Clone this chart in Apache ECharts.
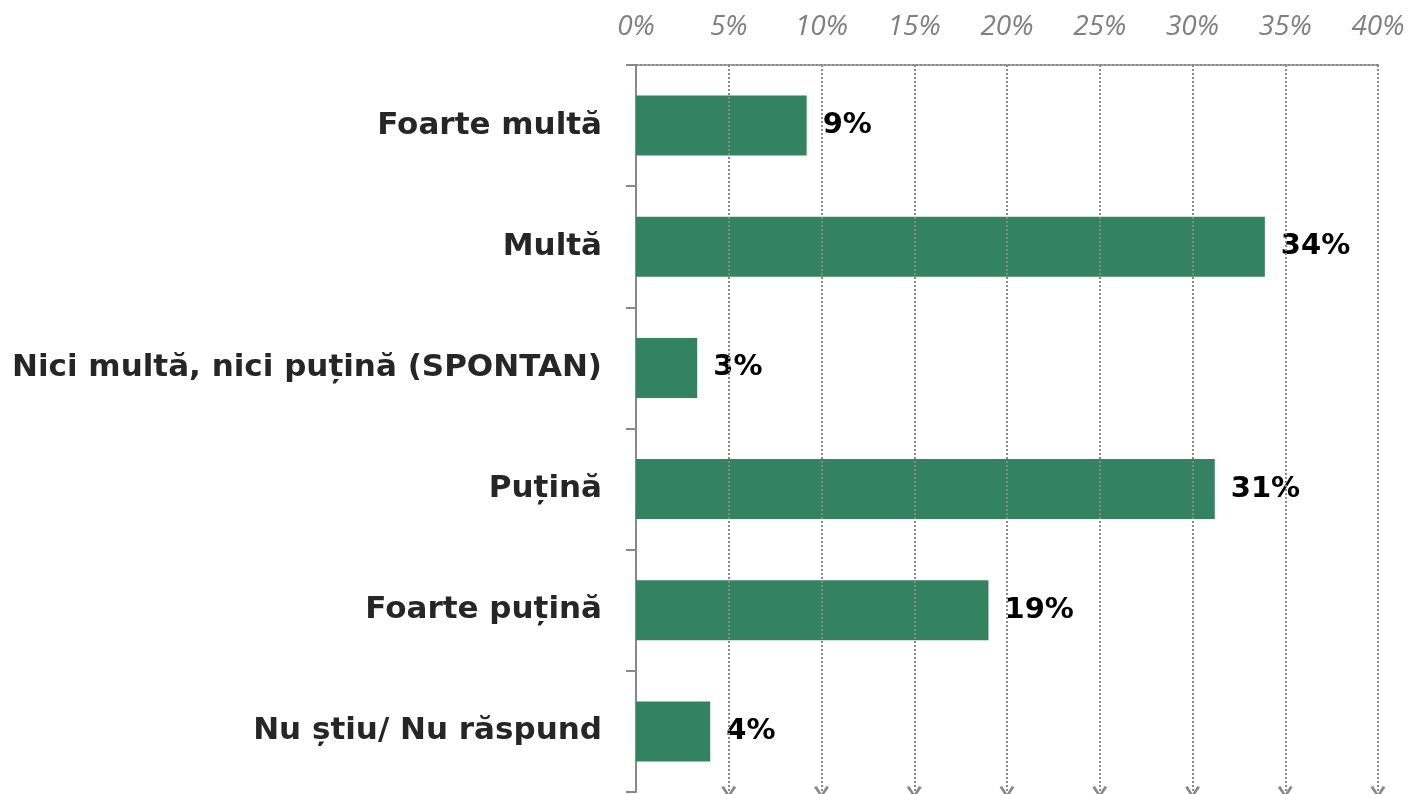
<!DOCTYPE html>
<html>
<head>
<meta charset="utf-8">
<script src="https://cdn.jsdelivr.net/npm/echarts@6/dist/echarts.min.js"></script>
<style>
html, body { margin: 0; padding: 0; background: #fff; }
#chart { width: 1409px; height: 794px; }
</style>
</head>
<body>
<div id="chart"></div>
<script>
// categories, top to bottom
var categories = ['Foarte multă', 'Multă', 'Nici multă, nici puțină (SPONTAN)', 'Puțină', 'Foarte puțină', 'Nu știu/ Nu răspund'];
// share of answers, %
var values = [9.2, 33.9, 3.3, 31.2, 19.0, 4.0];
// gridlines that end with a small arrow at the bottom
var arrowTicks = [5, 10, 15, 20, 25, 30, 35, 40];

var myChart = echarts.init(document.getElementById('chart'));

// open chevron, drawn pointing up (markLine turns it along the line)
var chevron = 'path://M0,8L5,0L10,8L8.2,9L5,3.2L1.8,9Z';

var option = {
	animation: false,
	grid: { left: 636, right: 31, top: 65, height: 727 },
	xAxis: {
		type: 'value',
		position: 'top',
		min: 0,
		max: 40,
		interval: 5,
		axisLine: { show: true, lineStyle: { color: '#888', type: 'dotted', width: 2 } },
		axisTick: { show: false },
		axisLabel: {
			color: '#808080',
			fontSize: 28,
			fontStyle: 'italic',
			fontFamily: 'Open Sans',
			margin: 24,
			formatter: '{value}%'
		},
		splitLine: { show: true, lineStyle: { color: '#888', type: 'dotted', width: 2 } }
	},
	yAxis: {
		type: 'category',
		inverse: true,
		data: categories,
		axisLine: { show: true, lineStyle: { color: '#888', width: 2 } },
		axisTick: { show: true, length: 10, lineStyle: { color: '#888', width: 2 } },
		axisLabel: {
			color: '#262626',
			fontSize: 31,
			fontWeight: 'bold',
			fontFamily: 'DejaVu Sans',
			margin: 34
		}
	},
	series: [{
		type: 'bar',
		data: values,
		barWidth: 60,
		itemStyle: { color: '#338260' },
		label: {
			show: true,
			position: 'right',
			distance: 16,
			color: '#000',
			fontSize: 29,
			fontWeight: 'bold',
			fontFamily: 'DejaVu Sans',
			formatter: function (p) { return Math.round(p.value) + '%'; }
		},
		markLine: {
			silent: true,
			symbol: ['none', chevron],
			symbolSize: [15, 12],
			label: { show: false },
			lineStyle: { color: '#888', type: 'dotted', width: 2 },
			data: arrowTicks.map(function (v) { return { xAxis: v }; })
		}
	}]
};
myChart.setOption(option);
</script>
</body>
</html>
